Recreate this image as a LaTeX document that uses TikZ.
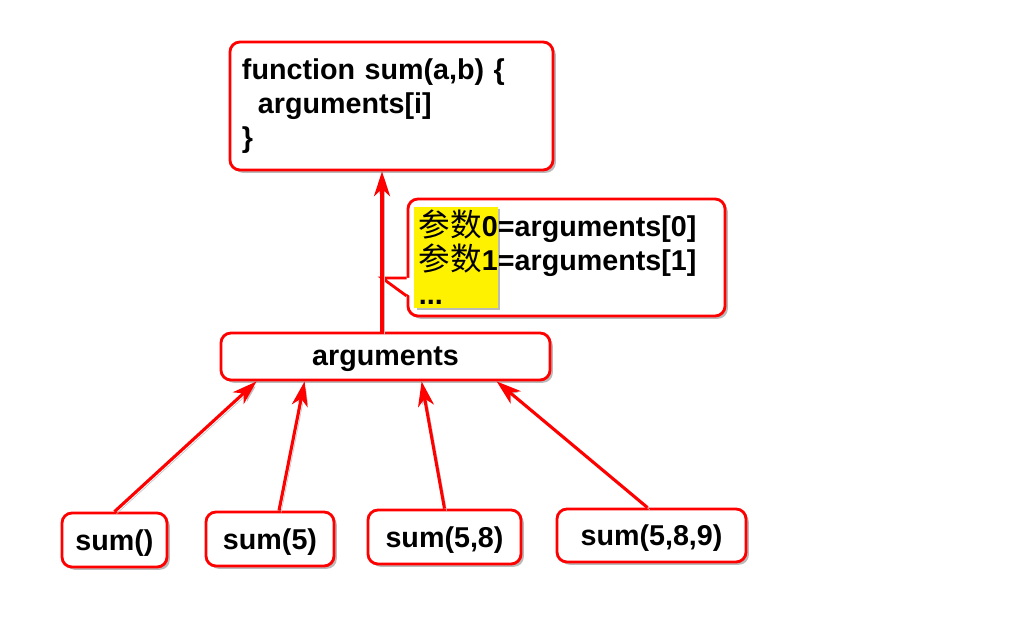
\documentclass[tikz,border=0pt]{standalone}
\usepackage{fontspec}
\setmainfont{Liberation Sans}
\newfontfamily\cjk[Scale=1.1]{Noto Sans CJK SC}
\usetikzlibrary{arrows.meta,shadows}

\begin{document}
\begin{tikzpicture}[
        x=0.025cm, y=-0.025cm,
        box/.style={rectangle, rounded corners=0.25cm, draw=red, line width=2pt, fill=white, inner sep=0pt,
            drop shadow={shadow xshift=2pt, shadow yshift=-2pt, fill=black!60, opacity=0.45},
            font=\fontsize{20.4}{24.2}\selectfont\bfseries},
        callbox/.style={box, text depth=0pt},
        marker/.style={rectangle, fill=yellow, inner sep=0pt,
            drop shadow={shadow xshift=1.5pt, shadow yshift=-1.5pt, fill=black!60, opacity=0.45}},
        arrow/.style={-{Stealth[length=0.62cm, width=0.4cm, inset=0.18cm]}, line width=2.2pt, red,
            preaction={draw=black!25, transform canvas={xshift=1.5pt, yshift=-1.5pt}}},
        pointer/.style={red, line width=2pt, line join=miter}
    ]
    \useasboundingbox (0,0) rectangle (1024,639);

    % Function
    \node[box, minimum width=8.075cm, minimum height=3.2cm, inner xsep=0.3cm, text width=7.475cm, align=left] (func) at (391.5,106)
        {function sum(a,b) \{\\\hspace*{0.4cm}arguments[i]\\\}};

    % Hint with its pointer
    \node[box, minimum width=7.925cm, minimum height=2.925cm] (note) at (566.5,257.5) {};
    \coordinate (tip) at (382,278);
    \fill[white] ([xshift=2.5pt,yshift=-0.51cm]note.west) -- (tip) -- ([xshift=2.5pt,yshift=-0.96cm]note.west) -- cycle;
    \draw[pointer] ([yshift=-0.51cm]note.west) -- (tip) -- ([yshift=-0.96cm]note.west);

    % Highlight
    \node[marker, minimum width=2.075cm, minimum height=2.525cm] (hl) at (456,257.5) {};
    \node[font=\fontsize{20.4}{24.2}\selectfont\bfseries, align=left, anchor=west, inner sep=0pt] (notetext) at ([xshift=0.3cm]note.west)
        {{\cjk\mdseries 参数}0=arguments[0]\\{\cjk\mdseries 参数}1=arguments[1]\\...};

    % Arguments object
    \node[callbox, minimum width=8.225cm, minimum height=1.175cm] (args) at (385.5,356.5) {arguments};

    % Calls
    \node[callbox, minimum width=2.625cm, minimum height=1.35cm] (s0) at (114.5,540) {sum()};
    \node[callbox, minimum width=3.2cm, minimum height=1.35cm] (s1) at (270,539) {sum(5)};
    \node[callbox, minimum width=3.825cm, minimum height=1.35cm] (s2) at (444.5,537) {sum(5,8)};
    \node[callbox, minimum width=4.725cm, minimum height=1.325cm] (s3) at (651.5,535.5) {sum(5,8,9)};

    % Arrows
    \draw[arrow] ([xshift=-0.0875cm]args.north) -- ([xshift=-0.0875cm]args.north |- func.south);
    \draw[arrow] (s0.north) -- ([xshift=0.925cm]args.south west);
    \draw[arrow] ([xshift=0.225cm]s1.north) -- ([xshift=2.125cm]args.south west);
    \draw[arrow] (s2.north) -- ([xshift=5.05cm]args.south west);
    \draw[arrow] ([xshift=-0.1cm]s3.north) -- ([xshift=6.925cm]args.south west);

\end{tikzpicture}
\end{document}
